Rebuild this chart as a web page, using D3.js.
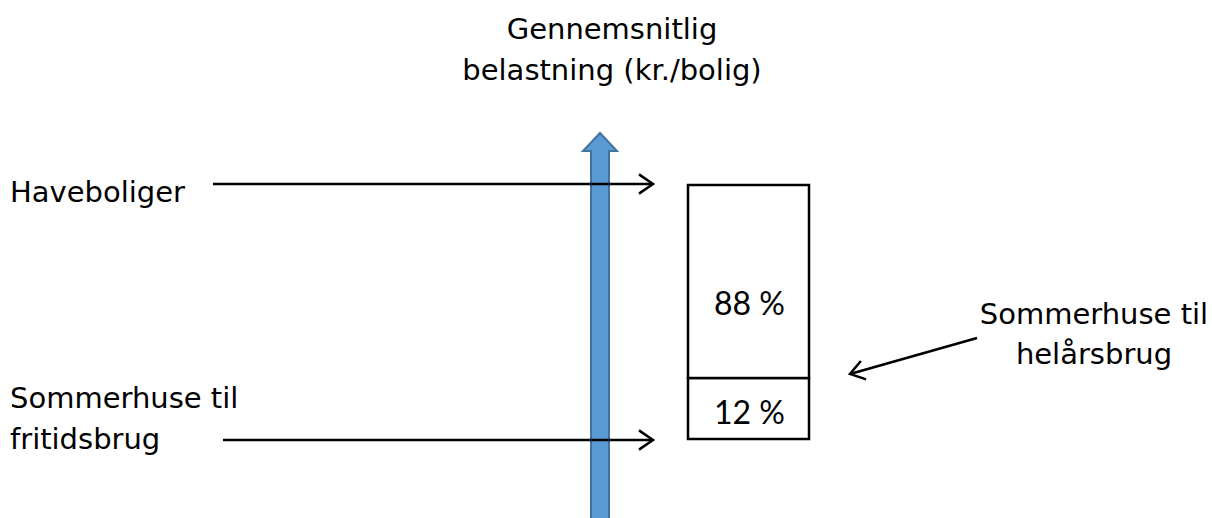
<!DOCTYPE html>
<meta charset="utf-8">
<style>
body { margin: 0; background: #fff; }
.lbl { font-family: "DejaVu Sans", Verdana, sans-serif; font-size: 29px; fill: #000; }
.pct { font-family: Lato, "Open Sans", sans-serif; font-size: 32px; fill: #000; }
.pointer { stroke: #000; stroke-width: 2.5px; fill: none; }
</style>
<body>
<script src="https://d3js.org/d3.v7.min.js"></script>
<script>

var width = 1212,
    height = 518;

// shares of the average burden (percent), bottom segment first
var segments = ["Sommerhuse til fritidsbrug", "Haveboliger"];
var shares = [12, 88];
var shareLabels = ["12 %", "88 %"];

var titleLines = ["Gennemsnitlig", "belastning (kr./bolig)"];
var leftLabels = [["Haveboliger"], ["Sommerhuse til", "fritidsbrug"]];
var rightLabel = ["Sommerhuse til", "helårsbrug"];

var svg = d3.select("body").append("svg")
    .attr("width", width)
    .attr("height", height);

// box is not drawn to scale in the original, so the scale is piecewise
var y = d3.scaleLinear()
    .domain([0, 12, 100])
    .range([439, 378, 185]);

var boxX = 688, boxW = 121;

// stacked segments
var cum = 0;
var stack = shares.map((s, i) => {
  var d = { name: segments[i], lo: cum, hi: cum + s, label: shareLabels[i] };
  cum += s;
  return d;
});

svg.selectAll("rect.seg")
    .data(stack)
  .enter()
    .append("rect")
    .attr("class", "seg")
    .attr("x", boxX)
    .attr("y", d => y(d.hi))
    .attr("width", boxW)
    .attr("height", d => y(d.lo) - y(d.hi))
    .attr("fill", "#fff")
    .attr("stroke", "#000")
    .attr("stroke-width", 2.5);

// labels sit a bit below the middle of each segment
svg.selectAll("text.pct")
    .data(stack)
  .enter()
    .append("text")
    .attr("class", "pct")
    .attr("x", boxX + boxW / 2 + 1)
    .attr("y", d => {
      var mid = (y(d.lo) + y(d.hi)) / 2;
      return d.lo === 0 ? mid + 15 : mid + 33;
    })
    .attr("text-anchor", "middle")
    .text(d => d.label);

// blue vertical axis arrow
var ax = 600;
svg.append("path")
    .attr("d", `M${ax - 9},${height + 5} L${ax - 9},151 L${ax - 17},151 L${ax},133 L${ax + 17},151 L${ax + 9},151 L${ax + 9},${height + 5} Z`)
    .attr("fill", "#5b9bd5")
    .attr("stroke", "#41719c")
    .attr("stroke-width", 2);

// title
svg.selectAll("text.title")
    .data(titleLines)
  .enter()
    .append("text")
    .attr("class", "lbl")
    .attr("x", 612)
    .attr("y", (d, i) => 39 + i * 41)
    .attr("text-anchor", "middle")
    .text(d => d);

// left labels
var leftY = [202, 408];
leftLabels.forEach((lines, k) => {
  svg.selectAll(null)
      .data(lines)
    .enter()
      .append("text")
      .attr("class", "lbl")
      .attr("x", 10)
      .attr("y", (d, i) => leftY[k] + i * 41)
      .text(d => d);
});

// right label
svg.selectAll(null)
    .data(rightLabel)
  .enter()
    .append("text")
    .attr("class", "lbl")
    .attr("x", 1094)
    .attr("y", (d, i) => 324 + i * 40)
    .attr("text-anchor", "middle")
    .text(d => d);

// pointer arrows with open heads
function pointer(x1, y1, x2, y2) {
  var a = Math.atan2(y2 - y1, x2 - x1), len = 17, spread = 0.6;
  svg.append("line").attr("class", "pointer")
      .attr("x1", x1).attr("y1", y1).attr("x2", x2).attr("y2", y2);
  svg.append("path").attr("class", "pointer")
      .attr("d", `M${x2 - len * Math.cos(a - spread)},${y2 - len * Math.sin(a - spread)} L${x2},${y2} L${x2 - len * Math.cos(a + spread)},${y2 - len * Math.sin(a + spread)}`);
}

pointer(213, 184, 653, 184);
pointer(223, 440, 653, 440);
pointer(977, 338, 850, 374);

</script>
